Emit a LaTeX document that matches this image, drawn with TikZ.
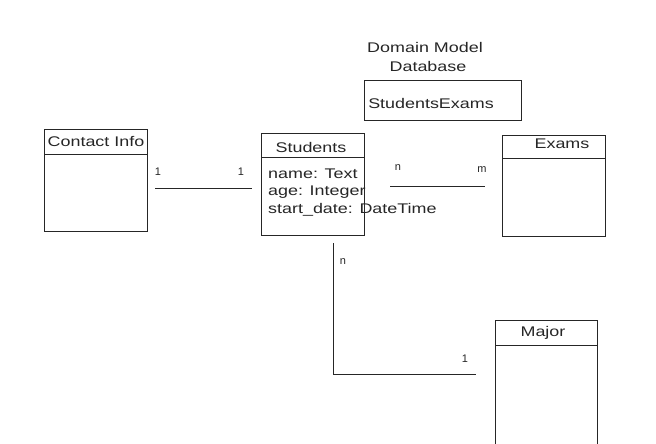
\documentclass[tikz,border=0pt]{standalone}
\usepackage{fontspec}
\setmainfont{Liberation Sans}
\newfontfamily\handfont[FakeStretch=1.28]{Liberation Sans}
\begin{document}
\begin{tikzpicture}[x=1pt,y=-1pt,
  ln/.style={line width=1pt,draw=black!85},
  lbl/.style={font=\handfont\fontsize{14}{16}\selectfont,inner sep=0pt,text=black!85},
  sm/.style={font=\fontsize{11}{13}\selectfont,inner sep=0pt,text=black!85}]
\useasboundingbox[fill=white] (0,0) rectangle (656,444);
% title
\node[lbl] (t1) at (425,47) {Domain Model};
\node[lbl] (t2) at (428,66) {Database};
% StudentsExams
\draw[ln] (364,81) rectangle (521,120);
\node[lbl] (se) at (431,103) {StudentsExams};
% Contact Info
\draw[ln] (44,129) rectangle (147,231);
\draw[ln] (44,154) -- (147,154);
\node[lbl] (ci) at (96,142) {Contact Info};
\coordinate (ciR) at (155,188);
% Students
\draw[ln] (261,133) rectangle (364,235);
\draw[ln] (261,157) -- (364,157);
\node[lbl] (st) at (311,147) {Students};
\node[lbl,anchor=west] (a1) at (268,174) {name: Text};
\node[lbl,anchor=west] (a2) at (268,192) {age: Integer};
\node[lbl,anchor=west] (a3) at (268,210) {start\_date: DateTime};
\coordinate (stL) at (252,188);
% Exams
\draw[ln] (502,135) rectangle (605,236);
\draw[ln] (502,158) -- (605,158);
\node[lbl] (ex) at (562,144) {Exams};
% Major
\draw[ln] (495,320) rectangle (597,450);
\draw[ln] (495,345) -- (597,345);
\node[lbl] (mj) at (543,333) {Major};
% connectors
\draw[ln] (ciR) -- (stL);
\node[sm] (l1) at (158,172) {1};
\node[sm] (l2) at (241,172) {1};
\coordinate (seL) at (390,186);
\coordinate (seR) at (485,186);
\draw[ln] (seL) -- (seR);
\node[sm] (ln1) at (398,168) {n};
\node[sm] (lm) at (482,170) {m};
\coordinate (v1) at (333,243);
\coordinate (v2) at (333,374);
\coordinate (v3) at (476,374);
\draw[ln] (v1) -- (v2) -- (v3);
\node[sm] (ln2) at (343,262) {n};
\node[sm] (l3) at (465,359) {1};
\end{tikzpicture}
\end{document}
